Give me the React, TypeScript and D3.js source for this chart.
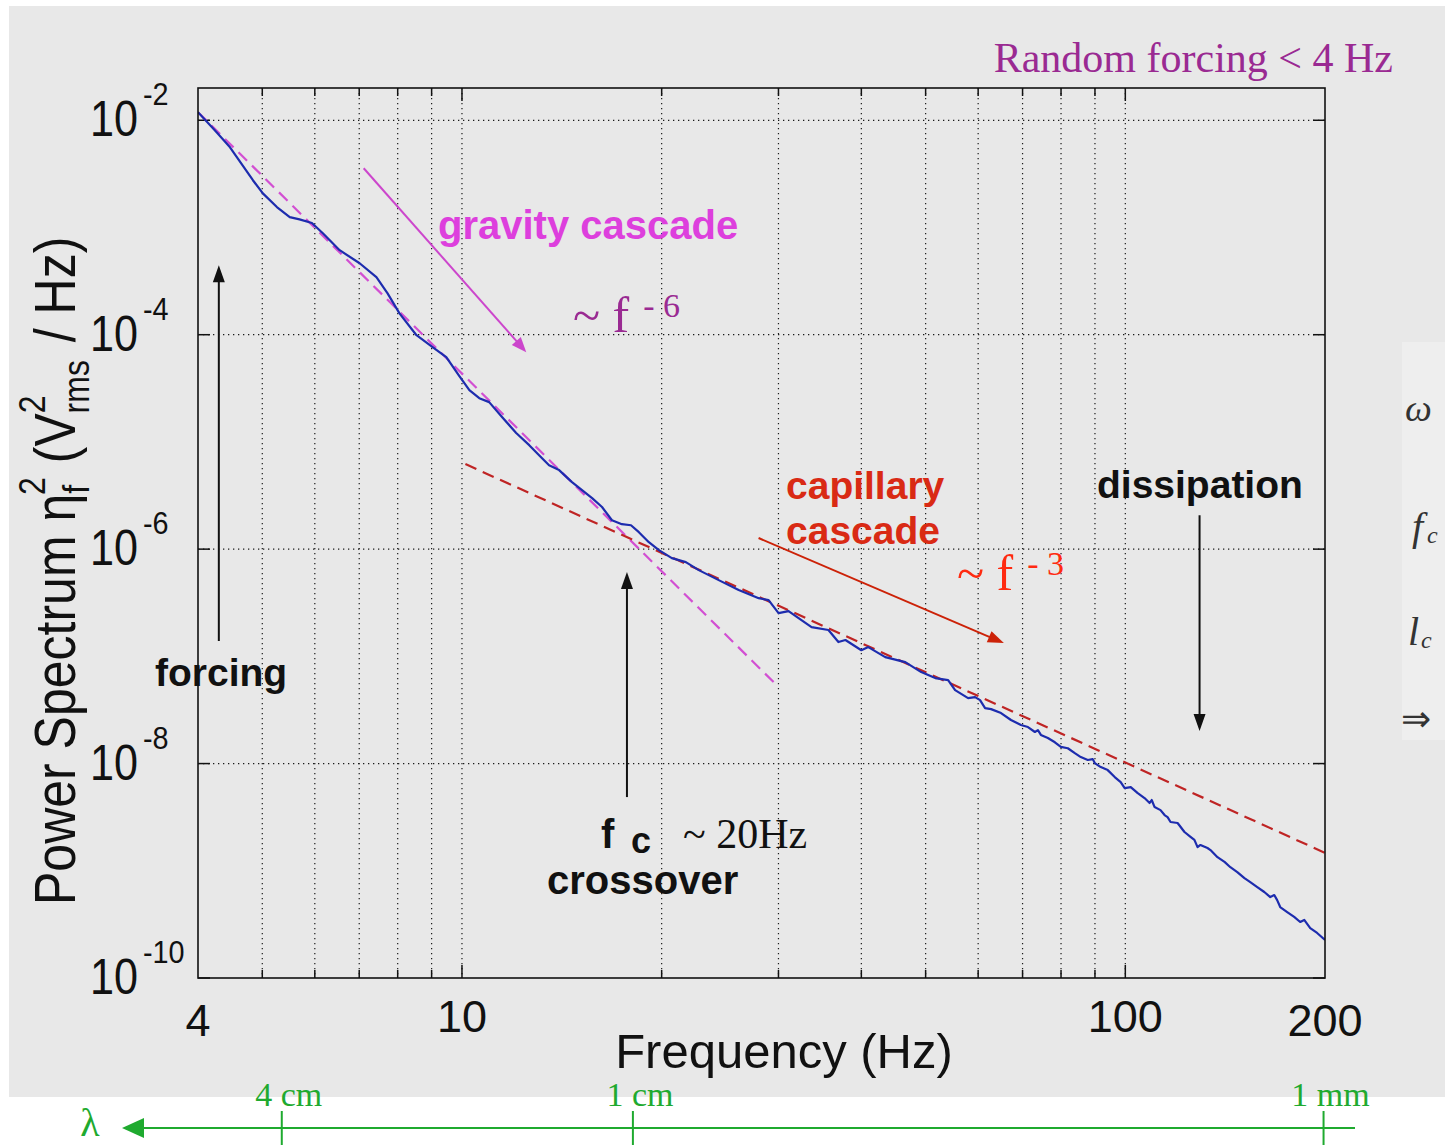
import React from "react";
import * as d3 from "d3";

// Measured surface-elevation power spectrum (Hz, V_rms^2/Hz)
const freqHz = [
  4.0, 4.24, 4.47, 4.84, 5.01, 5.26, 5.5, 5.69, 5.94, 6.17,
  6.54, 7.01, 7.43, 7.72, 8.05, 8.54, 9.03, 9.47, 9.91, 10.26,
  10.62, 10.99, 11.5, 12.07, 12.63, 13.07, 13.53, 14.01, 14.65, 15.17,
  15.71, 16.26, 16.83, 17.42, 17.98, 18.48, 19.13, 19.81, 20.72, 21.75,
  22.75, 24.38, 26.13, 28.01, 28.99, 30.01, 31.07, 32.17, 33.65, 35.68,
  36.94, 37.85, 40.0, 40.98, 43.46, 46.59, 49.24, 51.69, 54.06, 55.39,
  57.94, 59.37, 60.4, 61.46, 62.75, 64.96, 67.24, 69.61, 71.32, 73.07,
  73.83, 74.6, 76.43, 78.31, 79.95, 81.91, 83.92, 85.68, 87.78, 89.32,
  89.94, 91.83, 94.08, 96.39, 98.41, 99.78, 101.9, 104.4, 106.9, 108.8,
  109.6, 110.7, 113.0, 114.6, 115.8, 117.0, 119.9, 122.8, 125.4, 127.1,
  128.5, 129.8, 133.0, 134.4, 137.7, 141.1, 144.0, 147.5, 151.2, 154.3,
  158.1, 162.0, 165.4, 167.7, 169.4, 171.2, 175.4, 179.7, 183.5, 186.1,
  190.0, 194.6, 200,
];
const psd = [
  1.19e-2, 8.07e-3, 5.6e-3, 2.76e-3, 2.08e-3, 1.55e-3, 1.25e-3, 1.19e-3, 1.1e-3, 8.83e-4,
  6.14e-4, 4.64e-4, 3.44e-4, 2.44e-4, 1.58e-4, 9.89e-5, 7.64e-5, 6.17e-5, 4.1e-5, 3.04e-5,
  2.56e-5, 2.35e-5, 1.7e-5, 1.21e-5, 9.33e-6, 7.52e-6, 6.07e-6, 5.46e-6, 4.22e-6, 3.55e-6,
  2.99e-6, 2.47e-6, 1.86e-6, 1.71e-6, 1.67e-6, 1.44e-6, 1.16e-6, 9.79e-7, 8.24e-7, 7.57e-7,
  6.37e-7, 5.14e-7, 4.15e-7, 3.49e-7, 3.34e-7, 2.53e-7, 2.64e-7, 2.27e-7, 1.87e-7, 1.76e-7,
  1.36e-7, 1.42e-7, 1.14e-7, 1.22e-7, 9.84e-8, 8.83e-8, 7.13e-8, 6.27e-8, 6.01e-8, 4.84e-8,
  4.08e-8, 4.17e-8, 3.91e-8, 3.29e-8, 3.22e-8, 2.96e-8, 2.55e-8, 2.29e-8, 2.19e-8, 1.97e-8,
  2.05e-8, 1.85e-8, 1.73e-8, 1.58e-8, 1.43e-8, 1.39e-8, 1.25e-8, 1.15e-8, 1.08e-8, 1.1e-8,
  1.01e-8, 9.27e-9, 8.69e-9, 7.48e-9, 6.72e-9, 5.91e-9, 6.04e-9, 5.31e-9, 4.77e-9, 4.29e-9,
  4.57e-9, 3.93e-9, 3.68e-9, 3.31e-9, 3.17e-9, 2.85e-9, 2.79e-9, 2.3e-9, 2.07e-9, 1.94e-9,
  1.66e-9, 1.74e-9, 1.63e-9, 1.56e-9, 1.34e-9, 1.21e-9, 1.08e-9, 9.73e-10, 8.55e-10, 7.85e-10,
  7.05e-10, 6.34e-10, 5.69e-10, 5.94e-10, 5.33e-10, 4.59e-10, 4.12e-10, 3.71e-10, 3.33e-10, 3.48e-10,
  2.92e-10, 2.63e-10, 2.26e-10,
];

// Power-law fits: gravity (~f^-6) and capillary (~f^-3) regimes
const gravityFitFreq = [4.0, 29.5];
const gravityFitPower = [1.19e-2, 5.75e-8];
const capillaryFitFreq = [10.12, 200];
const capillaryFitPower = [6.21e-6, 1.47e-9];

// Axis ticks
const xTickLabels = [4, 10, 100, 200];
const xGridFreqs = [5, 6, 7, 8, 9, 10, 20, 30, 40, 50, 60, 70, 80, 90, 100];
const xMajorTicks = [10, 100];
const yTickExponents = [-2, -4, -6, -8, -10];

// Wavelength scale under the frequency axis
const lambdaLabels = ["4 cm", "1 cm", "1 mm"];
const lambdaFreqHz = [5.35, 18.1, 199];

// Annotation arrows in data coordinates [f1, p1, f2, p2]
const forcingArrow = [4.3, 1.39e-7, 4.3, 4.45e-4];
const crossoverArrow = [17.73, 4.87e-9, 17.73, 6.11e-7];
const dissipationArrow = [129.4, 2.07e-6, 129.4, 2.01e-8];
const gravityArrow = [7.11, 3.57e-3, 12.5, 6.87e-5];
const capillaryArrow = [28.0, 1.27e-6, 65.6, 1.33e-7];

const W = 1445;
const H = 1145;
const PL = 198;
const PR = 1325;
const PT = 88;
const PB = 978;

const SANS = "'Liberation Sans', Arial, Helvetica, sans-serif";
const SERIF = "'Liberation Serif', 'Times New Roman', serif";

function Arrow({ pts, x, y, color, head = 17, half = 6, width = 2 }) {
  const x1 = x(pts[0]);
  const y1 = y(pts[1]);
  const x2 = x(pts[2]);
  const y2 = y(pts[3]);
  const dx = x2 - x1;
  const dy = y2 - y1;
  const L = Math.hypot(dx, dy);
  const ux = dx / L;
  const uy = dy / L;
  const bx = x2 - ux * head;
  const by = y2 - uy * head;
  const px = -uy;
  const py = ux;
  return (
    <g>
      <line x1={x1} y1={y1} x2={bx + ux * 2} y2={by + uy * 2} stroke={color} strokeWidth={width} />
      <polygon
        points={`${x2},${y2} ${bx + px * half},${by + py * half} ${bx - px * half},${by - py * half}`}
        fill={color}
      />
    </g>
  );
}

export default function App() {
  const x = d3.scaleLog().domain([4, 200]).range([PL, PR]);
  const y = d3.scaleLog().domain([1e-10, 2e-2]).range([PB, PT]);

  const spectrum = freqHz.map((f, i) => ({ f, p: psd[i] })).filter((d) => d.p !== undefined);
  const line = d3
    .line<{ f: number; p: number }>()
    .x((d) => x(d.f))
    .y((d) => y(d.p));

  const gravity = gravityFitFreq.map((f, i) => ({ f, p: gravityFitPower[i] }));
  const capillary = capillaryFitFreq.map((f, i) => ({ f, p: capillaryFitPower[i] }));

  const dot = "1.3 3.7";

  return (
    <svg
      width={W}
      height={H}
      viewBox={`0 0 ${W} ${H}`}
      style={{ position: "absolute", left: 0, top: 0, background: "#ffffff" }}
    >
      <defs>
        <clipPath id="plotClip">
          <rect x={PL} y={PT} width={PR - PL} height={PB - PT} />
        </clipPath>
      </defs>

      {/* panel background */}
      <rect x={9} y={6} width={W - 9} height={1091} fill="#e8e8e8" />
      <rect x={1402} y={342} width={43} height={398} fill="#eeeeee" />

      {/* partial side-panel glyphs */}
      <g fontFamily={SERIF} fontStyle="italic" fill="#333">
        <text x={1405} y={421} fontSize={38}>ω</text>
        <text x={1412} y={540} fontSize={40}>f</text>
        <text x={1427} y={543} fontSize={24}>c</text>
        <text x={1408} y={645} fontSize={40}>l</text>
        <text x={1421} y={648} fontSize={24}>c</text>
        <text x={1401} y={731} fontSize={36} fontStyle="normal">⇒</text>
      </g>

      {/* grid */}
      <g stroke="#1a1a1a" strokeWidth={1.2} strokeDasharray={dot}>
        {xGridFreqs.map((f) => (
          <line key={`gx${f}`} x1={x(f)} x2={x(f)} y1={PT} y2={PB} />
        ))}
        {yTickExponents
          .filter((e) => e > -10)
          .map((e) => (
            <line key={`gy${e}`} x1={PL} x2={PR} y1={y(Math.pow(10, e))} y2={y(Math.pow(10, e))} />
          ))}
      </g>

      {/* axis ticks */}
      <g stroke="#111" strokeWidth={1.5}>
        {xGridFreqs.map((f) => {
          const len = xMajorTicks.includes(f) ? 13 : 8;
          return (
            <g key={`tx${f}`}>
              <line x1={x(f)} x2={x(f)} y1={PB} y2={PB - len} />
              <line x1={x(f)} x2={x(f)} y1={PT} y2={PT + len} />
            </g>
          );
        })}
        {yTickExponents.map((e) => {
          const yy = y(Math.pow(10, e));
          return (
            <g key={`ty${e}`}>
              <line x1={PL} x2={PL + 12} y1={yy} y2={yy} />
              <line x1={PR} x2={PR - 12} y1={yy} y2={yy} />
            </g>
          );
        })}
      </g>

      {/* fits and spectrum */}
      <g clipPath="url(#plotClip)" fill="none">
        <path
          d={line(gravity) || ""}
          stroke="#d24fd2"
          strokeWidth={2.2}
          strokeDasharray="12 7"
        />
        <path
          d={line(capillary) || ""}
          stroke="#bf2424"
          strokeWidth={2.2}
          strokeDasharray="12 7"
        />
        <path d={line(spectrum) || ""} stroke="#1d2cae" strokeWidth={2.2} strokeLinejoin="round" />
      </g>

      {/* frame */}
      <rect x={PL} y={PT} width={PR - PL} height={PB - PT} fill="none" stroke="#111" strokeWidth={1.6} />

      {/* y tick labels */}
      <g fontFamily={SANS} fill="#111">
        {yTickExponents.map((e) => {
          const yy = y(Math.pow(10, e));
          return (
            <g key={`yl${e}`}>
              <g transform={`translate(90,${yy + 16}) scale(0.9,1.05)`}>
                <text fontSize={48}>10</text>
              </g>
              <g transform={`translate(143,${yy - 15}) scale(0.9,1)`}>
                <text fontSize={32}>{`-${-e}`}</text>
              </g>
            </g>
          );
        })}
      </g>

      {/* x tick labels */}
      <g fontFamily={SANS} fill="#111" fontSize={45} textAnchor="middle">
        {xTickLabels.map((f) => (
          <text key={`xl${f}`} x={x(f)} y={f === 4 || f === 200 ? 1036 : 1032}>
            {f}
          </text>
        ))}
      </g>

      {/* axis titles */}
      <text x={784} y={1068} fontFamily={SANS} fontSize={49} fill="#111" textAnchor="middle">
        Frequency (Hz)
      </text>
      <text
        transform="translate(75,905) rotate(-90) scale(1,1.15)"
        fontFamily={SANS}
        fontSize={50}
        fill="#111"
      >
        Power Spectrum η
        <tspan fontSize={32} dy={12}>f</tspan>
        <tspan fontSize={32} dx={-10} dy={-38}>2</tspan>
        <tspan dy={26}> (V</tspan>
        <tspan fontSize={32} dy={-26}>2</tspan>
        <tspan fontSize={32} dx={-18} dy={38}>rms</tspan>
        <tspan dy={-12} dx={4}> / Hz)</tspan>
      </text>

      {/* annotations */}
      <text x={1393} y={72} fontFamily={SERIF} fontSize={42} fill="#9a2a92" textAnchor="end">
        Random forcing &lt; 4 Hz
      </text>

      <Arrow pts={gravityArrow} x={x} y={y} color="#cc46cc" head={15} half={6} />
      <text x={438} y={239} fontFamily={SANS} fontWeight="bold" fontSize={40} fill="#dd3fdd">
        gravity cascade
      </text>
      <text x={573} y={332} fontFamily={SERIF} fontSize={50} fill="#9a2a92">
        ~ f
        <tspan fontSize={34} dx={14} dy={-15}>- 6</tspan>
      </text>

      <Arrow pts={capillaryArrow} x={x} y={y} color="#cc2208" head={16} half={6} />
      <g fontFamily={SANS} fontWeight="bold" fontSize={39} fill="#d92a14">
        <text x={786} y={499}>capillary</text>
        <text x={786} y={544}>cascade</text>
      </g>
      <text x={957} y={590} fontFamily={SERIF} fontSize={50} fill="#ff2a10">
        ~ f
        <tspan fontSize={34} dx={14} dy={-15}>- 3</tspan>
      </text>

      <Arrow pts={forcingArrow} x={x} y={y} color="#111" />
      <text x={155} y={686} fontFamily={SANS} fontWeight="bold" fontSize={39} fill="#111">
        forcing
      </text>

      <Arrow pts={crossoverArrow} x={x} y={y} color="#111" />
      <g fontFamily={SANS} fontWeight="bold" fill="#111">
        <text x={601} y={848} fontSize={40}>f</text>
        <text x={631} y={853} fontSize={36}>c</text>
        <text x={547} y={894} fontSize={40}>crossover</text>
      </g>
      <text x={683} y={848} fontFamily={SERIF} fontSize={42} fill="#111">
        ~ 20Hz
      </text>

      <Arrow pts={dissipationArrow} x={x} y={y} color="#111" />
      <text x={1097} y={498} fontFamily={SANS} fontWeight="bold" fontSize={39} fill="#111">
        dissipation
      </text>

      {/* wavelength axis */}
      <g stroke="#1faa2f" strokeWidth={2}>
        <line x1={140} x2={1355} y1={1128} y2={1128} />
        {lambdaFreqHz.map((f) => (
          <line key={`lt${f}`} x1={x(f)} x2={x(f)} y1={1111} y2={1145} />
        ))}
      </g>
      <polygon points="122,1128 144,1118 144,1138" fill="#1faa2f" />
      <g fontFamily={SERIF} fill="#1faa2f">
        <text x={90} y={1136} fontSize={40} textAnchor="middle">λ</text>
        {lambdaLabels.map((lab, i) => (
          <text key={lab} x={x(lambdaFreqHz[i]) + 7} y={1106} fontSize={34} textAnchor="middle">
            {lab}
          </text>
        ))}
      </g>
    </svg>
  );
}
